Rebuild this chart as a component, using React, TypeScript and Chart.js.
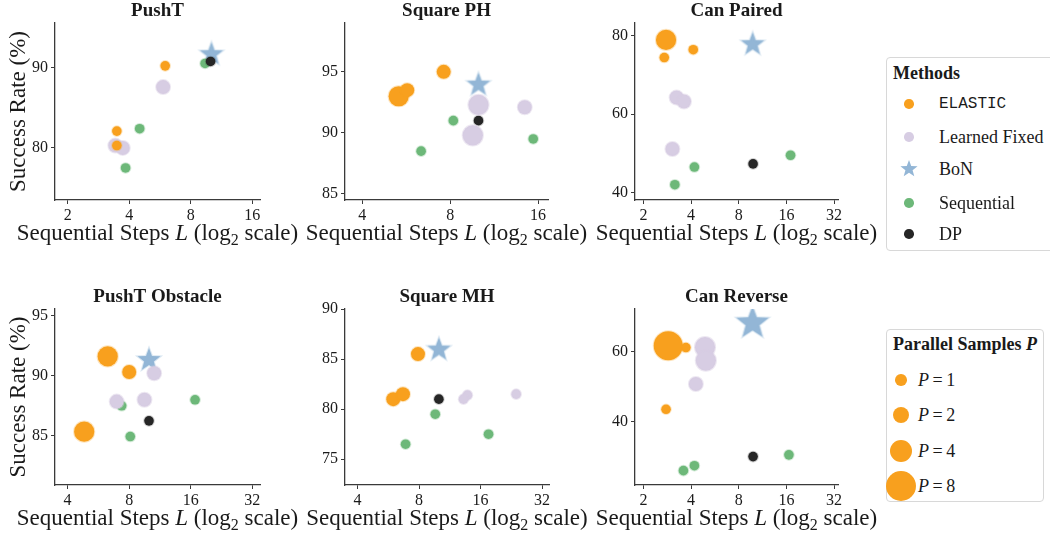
import React, { useEffect, useRef } from "react";
import { Chart, registerables } from "chart.js";

Chart.register(...registerables);

// [L (sequential steps), success rate (%), P (parallel samples)]
type Pt = [number, number, number];

const METHODS = ["ELASTIC", "Learned Fixed", "BoN", "Sequential", "DP"];
const FILL = ["#F8A01E", "#D7CDE3", "#93B6D6", "#6DB879", "#262626"];
const HALO = [
  "rgba(248,160,30,0.28)",
  "rgba(215,205,227,0.45)",
  "rgba(147,182,214,0.35)",
  "rgba(109,184,121,0.3)",
  "rgba(38,38,38,0.22)",
];
// lower = drawn on top
const DRAW_ORDER = [0, 1, 4, 3, 2];
const P_LEVELS = [1, 2, 4, 8];

// ---- PushT
const pushtElastic: Pt[] = [[6.0, 90.25, 1], [3.48, 82.1, 1], [3.48, 80.3, 1]];
const pushtLearned: Pt[] = [[5.86, 87.6, 2], [3.42, 80.3, 2], [3.72, 80.0, 2]];
const pushtBoN: Pt[] = [[10.1, 91.7, 4]];
const pushtSeq: Pt[] = [[4.5, 82.4, 1], [3.84, 77.5, 1], [9.4, 90.55, 1]];
const pushtDP: Pt[] = [[10.0, 90.8, 1]];

// ---- Square PH
const sqphElastic: Pt[] = [[5.33, 93.0, 4], [5.7, 93.5, 2], [7.6, 95.0, 2]];
const sqphLearned: Pt[] = [[10.0, 92.3, 4], [9.56, 89.8, 4], [14.4, 92.1, 2]];
const sqphBoN: Pt[] = [[10.0, 93.95, 4]];
const sqphSeq: Pt[] = [[8.2, 91.0, 1], [15.4, 89.5, 1], [6.36, 88.5, 1]];
const sqphDP: Pt[] = [[10.0, 91.0, 1]];

// ---- Can Paired
const canpElastic: Pt[] = [[2.78, 78.9, 4], [2.71, 74.4, 1], [4.13, 76.4, 1]];
const canpLearned: Pt[] = [[3.24, 64.2, 2], [3.61, 63.2, 2], [3.05, 51.1, 2]];
const canpBoN: Pt[] = [[9.8, 77.8, 4]];
const canpSeq: Pt[] = [[4.2, 46.5, 1], [3.16, 42.0, 1], [17.0, 49.5, 1]];
const canpDP: Pt[] = [[9.86, 47.3, 1]];

// ---- PushT Obstacle
const ptoElastic: Pt[] = [[6.28, 91.6, 4], [8.0, 90.3, 2], [4.82, 85.35, 4]];
const ptoLearned: Pt[] = [[10.6, 90.2, 2], [6.95, 87.85, 2], [9.5, 88.0, 2]];
const ptoBoN: Pt[] = [[10.0, 91.3, 4]];
const ptoSeq: Pt[] = [[7.35, 87.5, 1], [16.8, 88.0, 1], [8.1, 84.95, 1]];
const ptoDP: Pt[] = [[10.0, 86.25, 1]];

// ---- Square MH
const sqmhElastic: Pt[] = [[7.9, 85.5, 2], [5.98, 81.0, 2], [6.67, 81.5, 2]];
const sqmhLearned: Pt[] = [[13.8, 81.4, 1], [13.2, 81.0, 1], [23.9, 81.5, 1]];
const sqmhBoN: Pt[] = [[10.0, 85.95, 4]];
const sqmhSeq: Pt[] = [[9.6, 79.5, 1], [6.87, 76.5, 1], [17.5, 77.5, 1]];
const sqmhDP: Pt[] = [[10.0, 81.0, 1]];

// ---- Can Reverse
const canrElastic: Pt[] = [[2.87, 61.6, 8], [3.71, 61.1, 1], [2.78, 43.5, 1]];
const canrLearned: Pt[] = [[4.9, 61.2, 4], [4.96, 57.4, 4], [4.29, 50.7, 2]];
const canrBoN: Pt[] = [[9.78, 68.1, 8]];
const canrSeq: Pt[] = [[16.6, 30.5, 1], [4.2, 27.4, 1], [3.58, 26.0, 1]];
const canrDP: Pt[] = [[9.86, 30.0, 1]];

const X_TICKS_A = [2, 4, 8, 16];
const X_TICKS_B = [4, 8, 16];
const X_TICKS_C = [2, 4, 8, 16, 32];
const X_TICKS_D = [4, 8, 16, 32];

const SERIF = '"Liberation Serif", "Times New Roman", serif';
const TEXT = "#1a1a1a";
const AXIS = "#3a3a3a";

interface Spec {
  title: string;
  area: [number, number, number, number]; // left, top, right, bottom (page px)
  x: [number, number];
  y: [number, number];
  xTicks: number[];
  yTicks: number[];
  showY: boolean;
  series: Pt[][];
}

const PANELS: Spec[] = [
  { title: "PushT", area: [55, 23, 260, 200], x: [1.734, 17.45], y: [73.5, 95.6], xTicks: X_TICKS_A, yTicks: [80, 90], showY: true,
    series: [pushtElastic, pushtLearned, pushtBoN, pushtSeq, pushtDP] },
  { title: "Square PH", area: [345, 23, 548, 200], x: [3.49, 17.3], y: [84.5, 99.0], xTicks: X_TICKS_B, yTicks: [85, 90, 95], showY: false,
    series: [sqphElastic, sqphLearned, sqphBoN, sqphSeq, sqphDP] },
  { title: "Can Paired", area: [635, 23, 838, 200], x: [1.77, 33.9], y: [38.1, 83.2], xTicks: X_TICKS_C, yTicks: [40, 60, 80], showY: false,
    series: [canpElastic, canpLearned, canpBoN, canpSeq, canpDP] },
  { title: "PushT Obstacle", area: [55, 309, 260, 485], x: [3.47, 34.9], y: [80.93, 95.53], xTicks: X_TICKS_D, yTicks: [85, 90, 95], showY: true,
    series: [ptoElastic, ptoLearned, ptoBoN, ptoSeq, ptoDP] },
  { title: "Square MH", area: [345, 309, 549, 485], x: [3.47, 34.6], y: [72.43, 90.0], xTicks: X_TICKS_D, yTicks: [75, 80, 85, 90], showY: false,
    series: [sqmhElastic, sqmhLearned, sqmhBoN, sqmhSeq, sqmhDP] },
  { title: "Can Reverse", area: [635, 309, 838, 485], x: [1.77, 33.9], y: [21.9, 72.1], xTicks: X_TICKS_C, yTicks: [40, 60], showY: false,
    series: [canrElastic, canrLearned, canrBoN, canrSeq, canrDP] },
];

const circleRadius = (p: number) => 5.3 * Math.sqrt(p) - 0.5;
const starRadius = (p: number) => 6 * Math.sqrt(p);

function starCanvas(R: number, fill: string, halo: string): HTMLCanvasElement {
  const size = Math.ceil(2 * (R + 3));
  const c = document.createElement("canvas");
  c.width = size;
  c.height = size;
  const g = c.getContext("2d")!;
  g.translate(size / 2, size / 2);
  g.beginPath();
  for (let i = 0; i < 10; i++) {
    const r = i % 2 === 0 ? R : R * 0.42;
    const a = -Math.PI / 2 + (i * Math.PI) / 5;
    g.lineTo(r * Math.cos(a), r * Math.sin(a));
  }
  g.closePath();
  g.fillStyle = fill;
  g.fill();
  g.lineWidth = 2;
  g.strokeStyle = halo;
  g.stroke();
  return c;
}

const panelText = {
  id: "panelText",
  afterDraw(chart: any, _a: any, opts: any) {
    const { ctx, chartArea } = chart;
    const cx = (chartArea.left + chartArea.right) / 2;
    ctx.save();
    ctx.fillStyle = TEXT;
    ctx.textAlign = "center";
    ctx.textBaseline = "alphabetic";
    ctx.font = `bold 19px ${SERIF}`;
    ctx.fillText(opts.title, cx, chartArea.top - 7.5);

    const segs = [
      { t: "Sequential Steps ", f: `23px ${SERIF}`, dy: 0 },
      { t: "L", f: `italic 23px ${SERIF}`, dy: 0 },
      { t: " (log", f: `23px ${SERIF}`, dy: 0 },
      { t: "2", f: `16px ${SERIF}`, dy: 5 },
      { t: " scale)", f: `23px ${SERIF}`, dy: 0 },
    ];
    let total = 0;
    for (const s of segs) {
      ctx.font = s.f;
      total += ctx.measureText(s.t).width;
    }
    let x = cx - total / 2;
    const base = chartArea.bottom + 40;
    ctx.textAlign = "left";
    for (const s of segs) {
      ctx.font = s.f;
      ctx.fillText(s.t, x, base + s.dy);
      x += ctx.measureText(s.t).width;
    }

    if (opts.showY) {
      ctx.translate(chartArea.left - 30, (chartArea.top + chartArea.bottom) / 2);
      ctx.rotate(-Math.PI / 2);
      ctx.textAlign = "center";
      ctx.font = `23px ${SERIF}`;
      ctx.fillText("Success Rate (%)", 0, 0);
    }
    ctx.restore();
  },
};

function Panel({ spec }: { spec: Spec }) {
  const ref = useRef<HTMLCanvasElement>(null);
  const [L, T, R, B] = spec.area;
  const cLeft = L - 55;
  const cTop = T - 23;
  const cW = R - L + 100;
  const cH = B - T + 75;

  useEffect(() => {
    const datasets = spec.series.map((pts, i) => {
      const isStar = METHODS[i] === "BoN";
      const stars = isStar ? pts.map((p) => starCanvas(starRadius(p[2]), FILL[i], HALO[i])) : null;
      return {
        label: METHODS[i],
        data: pts.map((p) => ({ x: p[0], y: p[1] })),
        pointRadius: pts.map((p) => (isStar ? starRadius(p[2]) : circleRadius(p[2]))),
        pointHoverRadius: pts.map((p) => (isStar ? starRadius(p[2]) : circleRadius(p[2]))),
        pointBackgroundColor: FILL[i],
        pointBorderColor: HALO[i],
        pointBorderWidth: 2,
        pointStyle: stars ? stars : "circle",
        showLine: false,
        order: DRAW_ORDER[i],
      };
    });
    const tickFont = { family: SERIF, size: 16 };
    const chart = new Chart(ref.current!, {
      type: "scatter",
      data: { datasets: datasets as any },
      options: {
        animation: false,
        responsive: false,
        devicePixelRatio: 1,
        events: [],
        layout: { padding: { left: 15, top: 23, right: 45, bottom: 22 } },
        plugins: {
          legend: { display: false },
          tooltip: { enabled: false },
          title: { display: false },
          panelText: { title: spec.title, showY: spec.showY },
        } as any,
        scales: {
          x: {
            type: "logarithmic",
            min: spec.x[0],
            max: spec.x[1],
            bounds: "data",
            afterBuildTicks: (s: any) => {
              s.ticks = spec.xTicks.map((v) => ({ value: v }));
            },
            afterFit: (s: any) => {
              s.height = 30;
            },
            ticks: {
              callback: (v: any) => String(v),
              font: tickFont,
              color: TEXT,
              padding: 2,
              maxRotation: 0,
              autoSkip: false,
            },
            grid: { display: true, drawOnChartArea: false, drawTicks: true, tickLength: 4, color: AXIS, lineWidth: 1 },
            border: { display: true, color: AXIS, width: 1.3 },
          },
          y: {
            type: "linear",
            min: spec.y[0],
            max: spec.y[1],
            afterBuildTicks: (s: any) => {
              s.ticks = spec.yTicks.map((v) => ({ value: v }));
            },
            afterFit: (s: any) => {
              s.width = 40;
            },
            ticks: {
              callback: (v: any) => String(v),
              font: tickFont,
              color: TEXT,
              padding: 3,
              autoSkip: false,
            },
            grid: { display: true, drawOnChartArea: false, drawTicks: true, tickLength: 4, color: AXIS, lineWidth: 1 },
            border: { display: true, color: AXIS, width: 1.3 },
          },
        },
      } as any,
      plugins: [panelText as any],
    });
    return () => chart.destroy();
  }, [spec]);

  return (
    <canvas
      ref={ref}
      width={cW}
      height={cH}
      style={{ position: "absolute", left: cLeft, top: cTop, width: cW, height: cH }}
    />
  );
}

function StarIcon({ r, color }: { r: number; color: string }) {
  const pts: string[] = [];
  for (let i = 0; i < 10; i++) {
    const rr = i % 2 === 0 ? r : r * 0.42;
    const a = -Math.PI / 2 + (i * Math.PI) / 5;
    pts.push(`${(r + rr * Math.cos(a)).toFixed(2)},${(r + rr * Math.sin(a)).toFixed(2)}`);
  }
  return (
    <svg width={2 * r} height={2 * r} style={{ position: "absolute", left: -r, top: -r }}>
      <polygon points={pts.join(" ")} fill={color} />
    </svg>
  );
}

function Dot({ r, color }: { r: number; color: string }) {
  return (
    <div
      style={{
        position: "absolute",
        left: -r,
        top: -r,
        width: 2 * r,
        height: 2 * r,
        borderRadius: "50%",
        background: color,
      }}
    />
  );
}

const legendBox: React.CSSProperties = {
  position: "absolute",
  background: "#fff",
  border: "1px solid #d8d8d8",
  borderRadius: 4,
  boxSizing: "border-box",
  fontFamily: SERIF,
  color: TEXT,
};

function MethodsLegend() {
  const rows = [103, 136, 168, 202, 233];
  return (
    <div style={{ ...legendBox, left: 886, top: 57, width: 175, height: 194 }}>
      <div style={{ position: "absolute", left: 6, top: 15 - 12, height: 24, lineHeight: "24px", fontWeight: "bold", fontSize: 18 }}>
        Methods
      </div>
      {METHODS.map((m, i) => (
        <div key={m}>
          <div style={{ position: "absolute", left: 22, top: rows[i] - 57 }}>
            {m === "BoN" ? <StarIcon r={9} color={FILL[i]} /> : <Dot r={4.8} color={FILL[i]} />}
          </div>
          <div
            style={{
              position: "absolute",
              left: 52,
              top: rows[i] - 57 - 12,
              height: 24,
              lineHeight: "24px",
              whiteSpace: "nowrap",
              fontSize: m === "ELASTIC" ? 16 : 18,
              fontFamily: m === "ELASTIC" ? '"Liberation Mono", "DejaVu Sans Mono", monospace' : SERIF,
            }}
          >
            {m}
          </div>
        </div>
      ))}
    </div>
  );
}

function SizeLegend() {
  const rows = [379, 414, 450, 485];
  const radii = [5.8, 8.3, 11, 15];
  return (
    <div style={{ ...legendBox, left: 886, top: 329, width: 158, height: 173 }}>
      <div style={{ position: "absolute", left: 6, top: 14 - 12, height: 24, lineHeight: "24px", fontWeight: "bold", fontSize: 18, whiteSpace: "nowrap" }}>
        Parallel Samples <i>P</i>
      </div>
      {P_LEVELS.map((p, i) => (
        <div key={p}>
          <div style={{ position: "absolute", left: 14, top: rows[i] - 329 }}>
            <Dot r={radii[i]} color={FILL[0]} />
          </div>
          <div
            style={{
              position: "absolute",
              left: 31,
              top: rows[i] - 329 - 12,
              height: 24,
              lineHeight: "24px",
              whiteSpace: "nowrap",
              fontSize: 18,
            }}
          >
            <i>P</i>{"\u2009=\u2009"}{p}
          </div>
        </div>
      ))}
    </div>
  );
}

export default function App() {
  return (
    <div
      style={{
        position: "absolute",
        left: 0,
        top: 0,
        width: 1050,
        height: 537,
        overflow: "hidden",
        background: "#fff",
      }}
    >
      {PANELS.map((s) => (
        <Panel key={s.title} spec={s} />
      ))}
      <MethodsLegend />
      <SizeLegend />
    </div>
  );
}
